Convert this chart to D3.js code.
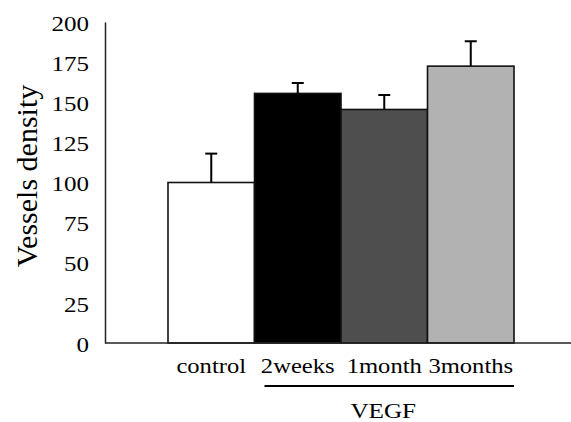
<!DOCTYPE html>
<html>
<head>
<meta charset="utf-8">
<script src="https://cdn.jsdelivr.net/npm/d3@7"></script>
<style>
  body { margin: 0; background: #fff; }
  text { font-family: "Liberation Serif", "Times New Roman", serif; fill: #000; }
</style>
</head>
<body>
<svg width="571" height="422"></svg>
<script>
var categories = ["control", "2weeks", "1month", "3months"];
var values = [100, 155.5, 145.5, 172.5];
var errors = [18, 6.5, 9, 15.5];
var colors = ["#ffffff", "#000000", "#4e4e4e", "#b2b2b2"];
var yTicks = [0, 25, 50, 75, 100, 125, 150, 175, 200];
var groupLabel = "VEGF";
var yLabel = "Vessels density";

var data = categories.map(function(c, i) {
  return {name: c, value: values[i], err: errors[i], color: colors[i]};
});

var svg = d3.select("svg");
var axisX = 105, baseY = 343, topY = 22;

var x = d3.scaleBand()
  .domain(categories)
  .range([168, 514])
  .padding(0);

var y = d3.scaleLinear()
  .domain([0, 200])
  .range([baseY, topY]);

// stretch text a bit wider, the original looks horizontally scaled
function widen(sel, k) {
  sel.each(function() {
    var w = this.getComputedTextLength();
    d3.select(this).attr("textLength", w * k).attr("lengthAdjust", "spacingAndGlyphs");
  });
}

// bars
svg.selectAll("rect.bar")
  .data(data)
  .enter().append("rect")
  .attr("class", "bar")
  .attr("x", function(d) { return x(d.name); })
  .attr("y", function(d) { return y(d.value); })
  .attr("width", x.bandwidth())
  .attr("height", function(d) { return baseY - y(d.value); })
  .attr("fill", function(d) { return d.color; })
  .attr("stroke", "#111")
  .attr("stroke-width", 1.6);

// error bars (upper only)
var eb = svg.selectAll("g.err")
  .data(data)
  .enter().append("g")
  .attr("class", "err")
  .attr("stroke", "#000")
  .attr("stroke-width", 2);
eb.append("line")
  .attr("x1", function(d) { return x(d.name) + x.bandwidth() / 2; })
  .attr("x2", function(d) { return x(d.name) + x.bandwidth() / 2; })
  .attr("y1", function(d) { return y(d.value); })
  .attr("y2", function(d) { return y(d.value + d.err); });
eb.append("line")
  .attr("x1", function(d) { return x(d.name) + x.bandwidth() / 2 - 6; })
  .attr("x2", function(d) { return x(d.name) + x.bandwidth() / 2 + 6; })
  .attr("y1", function(d) { return y(d.value + d.err); })
  .attr("y2", function(d) { return y(d.value + d.err); });

// y axis
var yAxis = svg.append("g")
  .attr("transform", "translate(" + axisX + ",0)")
  .call(d3.axisLeft(y).tickValues(yTicks).tickSize(0).tickPadding(16))
  .attr("font-family", "Liberation Serif, serif");
yAxis.select(".domain").attr("stroke", "#222").attr("stroke-width", 1.5);
yAxis.selectAll("text")
  .attr("font-size", "20.5px")
  .attr("dy", "0.4em")
  .call(widen, 1.22);

// x axis line
svg.append("line")
  .attr("x1", axisX).attr("x2", 571)
  .attr("y1", baseY).attr("y2", baseY)
  .attr("stroke", "#222")
  .attr("stroke-width", 1.5);

// category labels
svg.selectAll("text.cat")
  .data(categories)
  .enter().append("text")
  .attr("class", "cat")
  .attr("x", function(d) { return x(d) + x.bandwidth() / 2; })
  .attr("y", 372.5)
  .attr("text-anchor", "middle")
  .attr("font-size", "20.5px")
  .text(function(d) { return d; })
  .call(widen, 1.2);

// VEGF bracket
svg.append("line")
  .attr("x1", x("2weeks") + 10)
  .attr("x2", x("3months") + x.bandwidth())
  .attr("y1", 386).attr("y2", 386)
  .attr("stroke", "#000")
  .attr("stroke-width", 2.2);
svg.append("text")
  .attr("x", (x("2weeks") + 10 + x("3months") + x.bandwidth()) / 2 - 6)
  .attr("y", 417.5)
  .attr("text-anchor", "middle")
  .attr("font-size", "21.5px")
  .text(groupLabel)
  .call(widen, 1.17);

// y label
svg.append("text")
  .attr("transform", "translate(37,176) rotate(-90)")
  .attr("text-anchor", "middle")
  .attr("font-size", "30px")
  .text(yLabel);
</script>
</body>
</html>
